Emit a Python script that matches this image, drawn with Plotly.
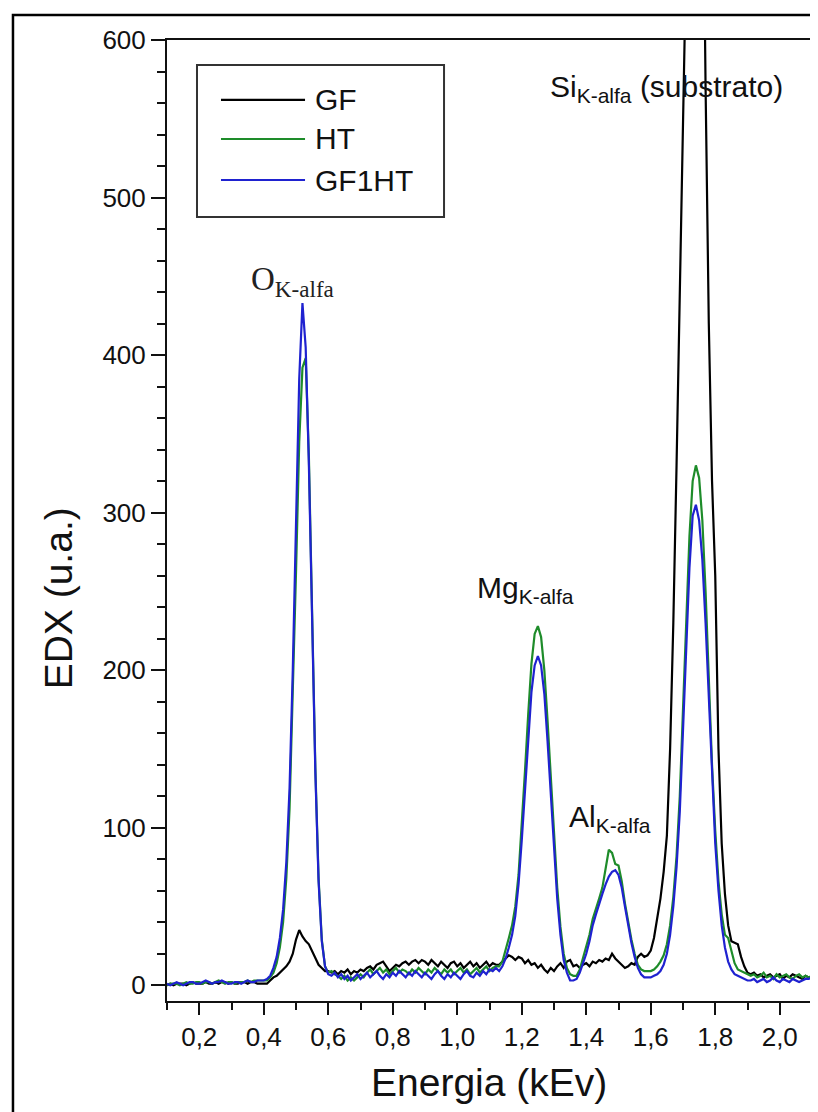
import numpy as np
import plotly.graph_objects as go

# Energy channels (keV), 0.10 .. 2.10 step 0.01
energy_keV = np.round(np.arange(0.10, 2.1001, 0.01), 2)

# ---- GF (black) ----
gf = (
    [0,1,0,1,1,1,0,1,2,1, 1,1,2,1,1,2,1,2,2,1, 2,1,1,2,2,1,2,2,1,1]                      # 0.10-0.39
    + [1,1,3,5,6,8,10,12,15,20,29,35,31,28,26,22,17,13,11,9,9]                           # 0.40-0.60
    + [8,9,7,9,8,10,7,9,8,10, 9,11,12,10,13,14,15,12,9,11, 13,12,14,15,13,15,16,14,16,15,
       13,16,14,12,15,13,11,14,15,12, 14,11,13,15,12,14,11,13,15,12, 14,13]              # 0.61-1.12
    + [13,15,17,19,18,16,18,17,14,16,13,14,11,13,10,8,11,9,12,14,11,15,16,12]            # 1.13-1.36
    + [13,11,13,14,12,15,14,16,15,17,16,20,17,15,13,11,12,14,13,18,20,18,19]             # 1.37-1.59
    + [22,30,42,55,72,95,150,230,330,450,570,700,850,950,980,900,760,570,420,320,
       260,150,90,58,38,28,27,26,18,12,8]                                                # 1.60-1.90
    + [7,8,6,7,5,6,7,5,6,7,4,6,5,7,6,5,4,6,5,5]                                          # 1.91-2.10
)

# ---- HT (green) ----
ht = (
    [0,1,1,1,0,1,2,1,1,2, 2,1,2,2,1,2,3,2,1,2, 2,1,2,2,2,3,2,3,3,3]
    + [3,3,5,8,14,24,40,68,112,180,262,345,392,398,335,236,138,68,29,12,8]
    + [9,7,6,4,6,3,5,3,5,7, 5,8,10,7,9,11,8,10,7,9, 11,8,10,9,7,10,8,11,9,7,
       10,8,11,9,7,10,8,10,7,9, 11,8,10,7,9,11,8,10,12,9, 11,12]
    + [12,15,22,30,38,50,70,100,136,172,204,223,228,221,200,168,130,94,62,37,20,11,7,6]
    + [6,10,17,24,32,42,48,55,62,74,86,84,77,76,66,52,40,29,20,13,10,9,9]
    + [9,10,12,15,19,26,38,56,82,120,172,230,285,320,330,322,295,250,195,140,
       98,66,45,32,30,22,14,10,9,8,7]
    + [6,7,5,6,8,5,6,4,7,5,6,7,5,4,6,7,5,6,5,6]
)

# ---- GF1HT (blue) ----
gf1ht = (
    [1,0,1,2,1,0,1,2,2,1, 1,2,3,2,1,2,2,3,2,1, 1,2,2,1,2,3,2,2,3,3]
    + [3,4,6,11,18,30,48,78,125,200,290,385,433,405,330,232,135,66,28,12,7]
    + [6,8,5,7,4,6,3,5,7,4, 6,8,5,7,9,6,4,7,5,8, 6,9,7,5,8,6,9,7,5,8,
       6,4,7,9,6,4,7,5,8,6, 4,7,9,6,5,8,6,9,7,10, 9,11]
    + [9,12,17,24,32,44,64,92,125,158,186,203,209,203,185,155,120,85,55,32,16,8,3,3]
    + [4,8,14,20,28,38,45,52,58,64,69,72,73,70,62,50,38,27,18,11,7,5,5]
    + [5,6,7,9,13,20,32,50,75,110,160,215,265,298,305,295,270,230,180,130,
       90,60,38,24,15,10,7,6,5,4,3]
    + [3,4,2,3,4,2,3,5,3,2,4,3,2,4,3,2,3,4,4,5]
)

series_names = ["GF", "HT", "GF1HT"]
series_colors = ["#000000", "#1e8c2a", "#1f22d0"]

x_tick_vals = [0.2, 0.4, 0.6, 0.8, 1.0, 1.2, 1.4, 1.6, 1.8, 2.0]
x_tick_labels = ["0,2", "0,4", "0,6", "0,8", "1,0", "1,2", "1,4", "1,6", "1,8", "2,0"]
y_tick_vals = [0, 100, 200, 300, 400, 500, 600]

fig = go.Figure()
for name, vals, col in zip(series_names, [gf, ht, gf1ht], series_colors):
    fig.add_trace(go.Scatter(x=energy_keV, y=vals, mode="lines", name=name,
                             line=dict(color=col, width=2.2), showlegend=False))

SANS = "Liberation Sans, Arial, sans-serif"
SERIF = "Liberation Serif, Times New Roman, serif"

fig.update_layout(
    width=818, height=1112,
    margin=dict(l=159, r=14, t=32, b=119, autoexpand=False),
    paper_bgcolor="white", plot_bgcolor="white",
    font=dict(family=SANS, color="#111111"),
    showlegend=False,
)
fig.update_xaxes(
    range=[0.1, 2.1], showgrid=False, zeroline=False,
    showline=True, linewidth=2, linecolor="#111111", mirror=True,
    tickmode="array", tickvals=x_tick_vals, ticktext=x_tick_labels,
    ticks="outside", ticklen=12, tickwidth=2, tickcolor="#111111",
    tickfont=dict(size=26, family=SANS, color="#111111"),
    minor=dict(tickmode="linear", tick0=0.1, dtick=0.1, ticks="outside",
               ticklen=7, tickwidth=2, tickcolor="#111111"),
    automargin=False,
)
fig.update_yaxes(
    range=[-10, 600], showgrid=False, zeroline=False,
    showline=True, linewidth=2, linecolor="#111111", mirror=True,
    tickmode="array", tickvals=y_tick_vals,
    ticks="outside", ticklen=14, tickwidth=2, tickcolor="#111111",
    tickfont=dict(size=26, family=SANS, color="#111111"),
    minor=dict(tickmode="linear", tick0=0, dtick=20, ticks="outside",
               ticklen=8, tickwidth=2, tickcolor="#111111"),
    automargin=False,
)

# outer frame
fig.add_shape(type="rect", xref="paper", yref="paper",
              x0=-0.2388, x1=1.0186, y0=-0.1217, y1=1.026,
              line=dict(color="#000000", width=2.5), fillcolor="rgba(0,0,0,0)")

# legend (manual)
fig.add_shape(type="rect", xref="paper", yref="paper",
              x0=0.0465, x1=0.4295, y0=0.8158, y1=0.974,
              line=dict(color="#333333", width=2), fillcolor="white")
leg_y = [0.9376, 0.8970, 0.8543]
for name, col, yy in zip(series_names, series_colors, leg_y):
    fig.add_shape(type="line", xref="paper", yref="paper",
                  x0=0.0837, x1=0.2140, y0=yy, y1=yy,
                  line=dict(color=col, width=2.2))
    fig.add_annotation(xref="paper", yref="paper", x=0.2264, y=yy, text=name,
                       xanchor="left", yanchor="middle", showarrow=False,
                       font=dict(size=30, family=SANS, color="#111111"))

# peak labels
fig.add_annotation(x=0.488, y=447, text="O<sub>K-alfa</sub>", showarrow=False,
                   xanchor="center", yanchor="middle",
                   font=dict(size=33, family=SERIF, color="#222222"))
fig.add_annotation(x=1.213, y=251, text="Mg<sub>K-alfa</sub>", showarrow=False,
                   xanchor="center", yanchor="middle",
                   font=dict(size=30, family=SANS, color="#111111"))
fig.add_annotation(x=1.474, y=106, text="Al<sub>K-alfa</sub>", showarrow=False,
                   xanchor="center", yanchor="middle",
                   font=dict(size=30, family=SANS, color="#111111"))
fig.add_annotation(x=1.650, y=569, text="Si<sub>K-alfa</sub> (substrato)", showarrow=False,
                   xanchor="center", yanchor="middle",
                   font=dict(size=30, family=SANS, color="#111111"))

# axis titles
fig.add_annotation(xref="paper", yref="paper", x=0.499, y=-0.0853,
                   text="Energia (kEv)", showarrow=False,
                   xanchor="center", yanchor="middle",
                   font=dict(size=39, family=SANS, color="#111111"))
fig.add_annotation(xref="paper", yref="paper", x=-0.169, y=0.419,
                   text="EDX (u.a.)", showarrow=False, textangle=-90,
                   xanchor="center", yanchor="middle",
                   font=dict(size=39, family=SANS, color="#111111"))

fig.write_html("out.html")
